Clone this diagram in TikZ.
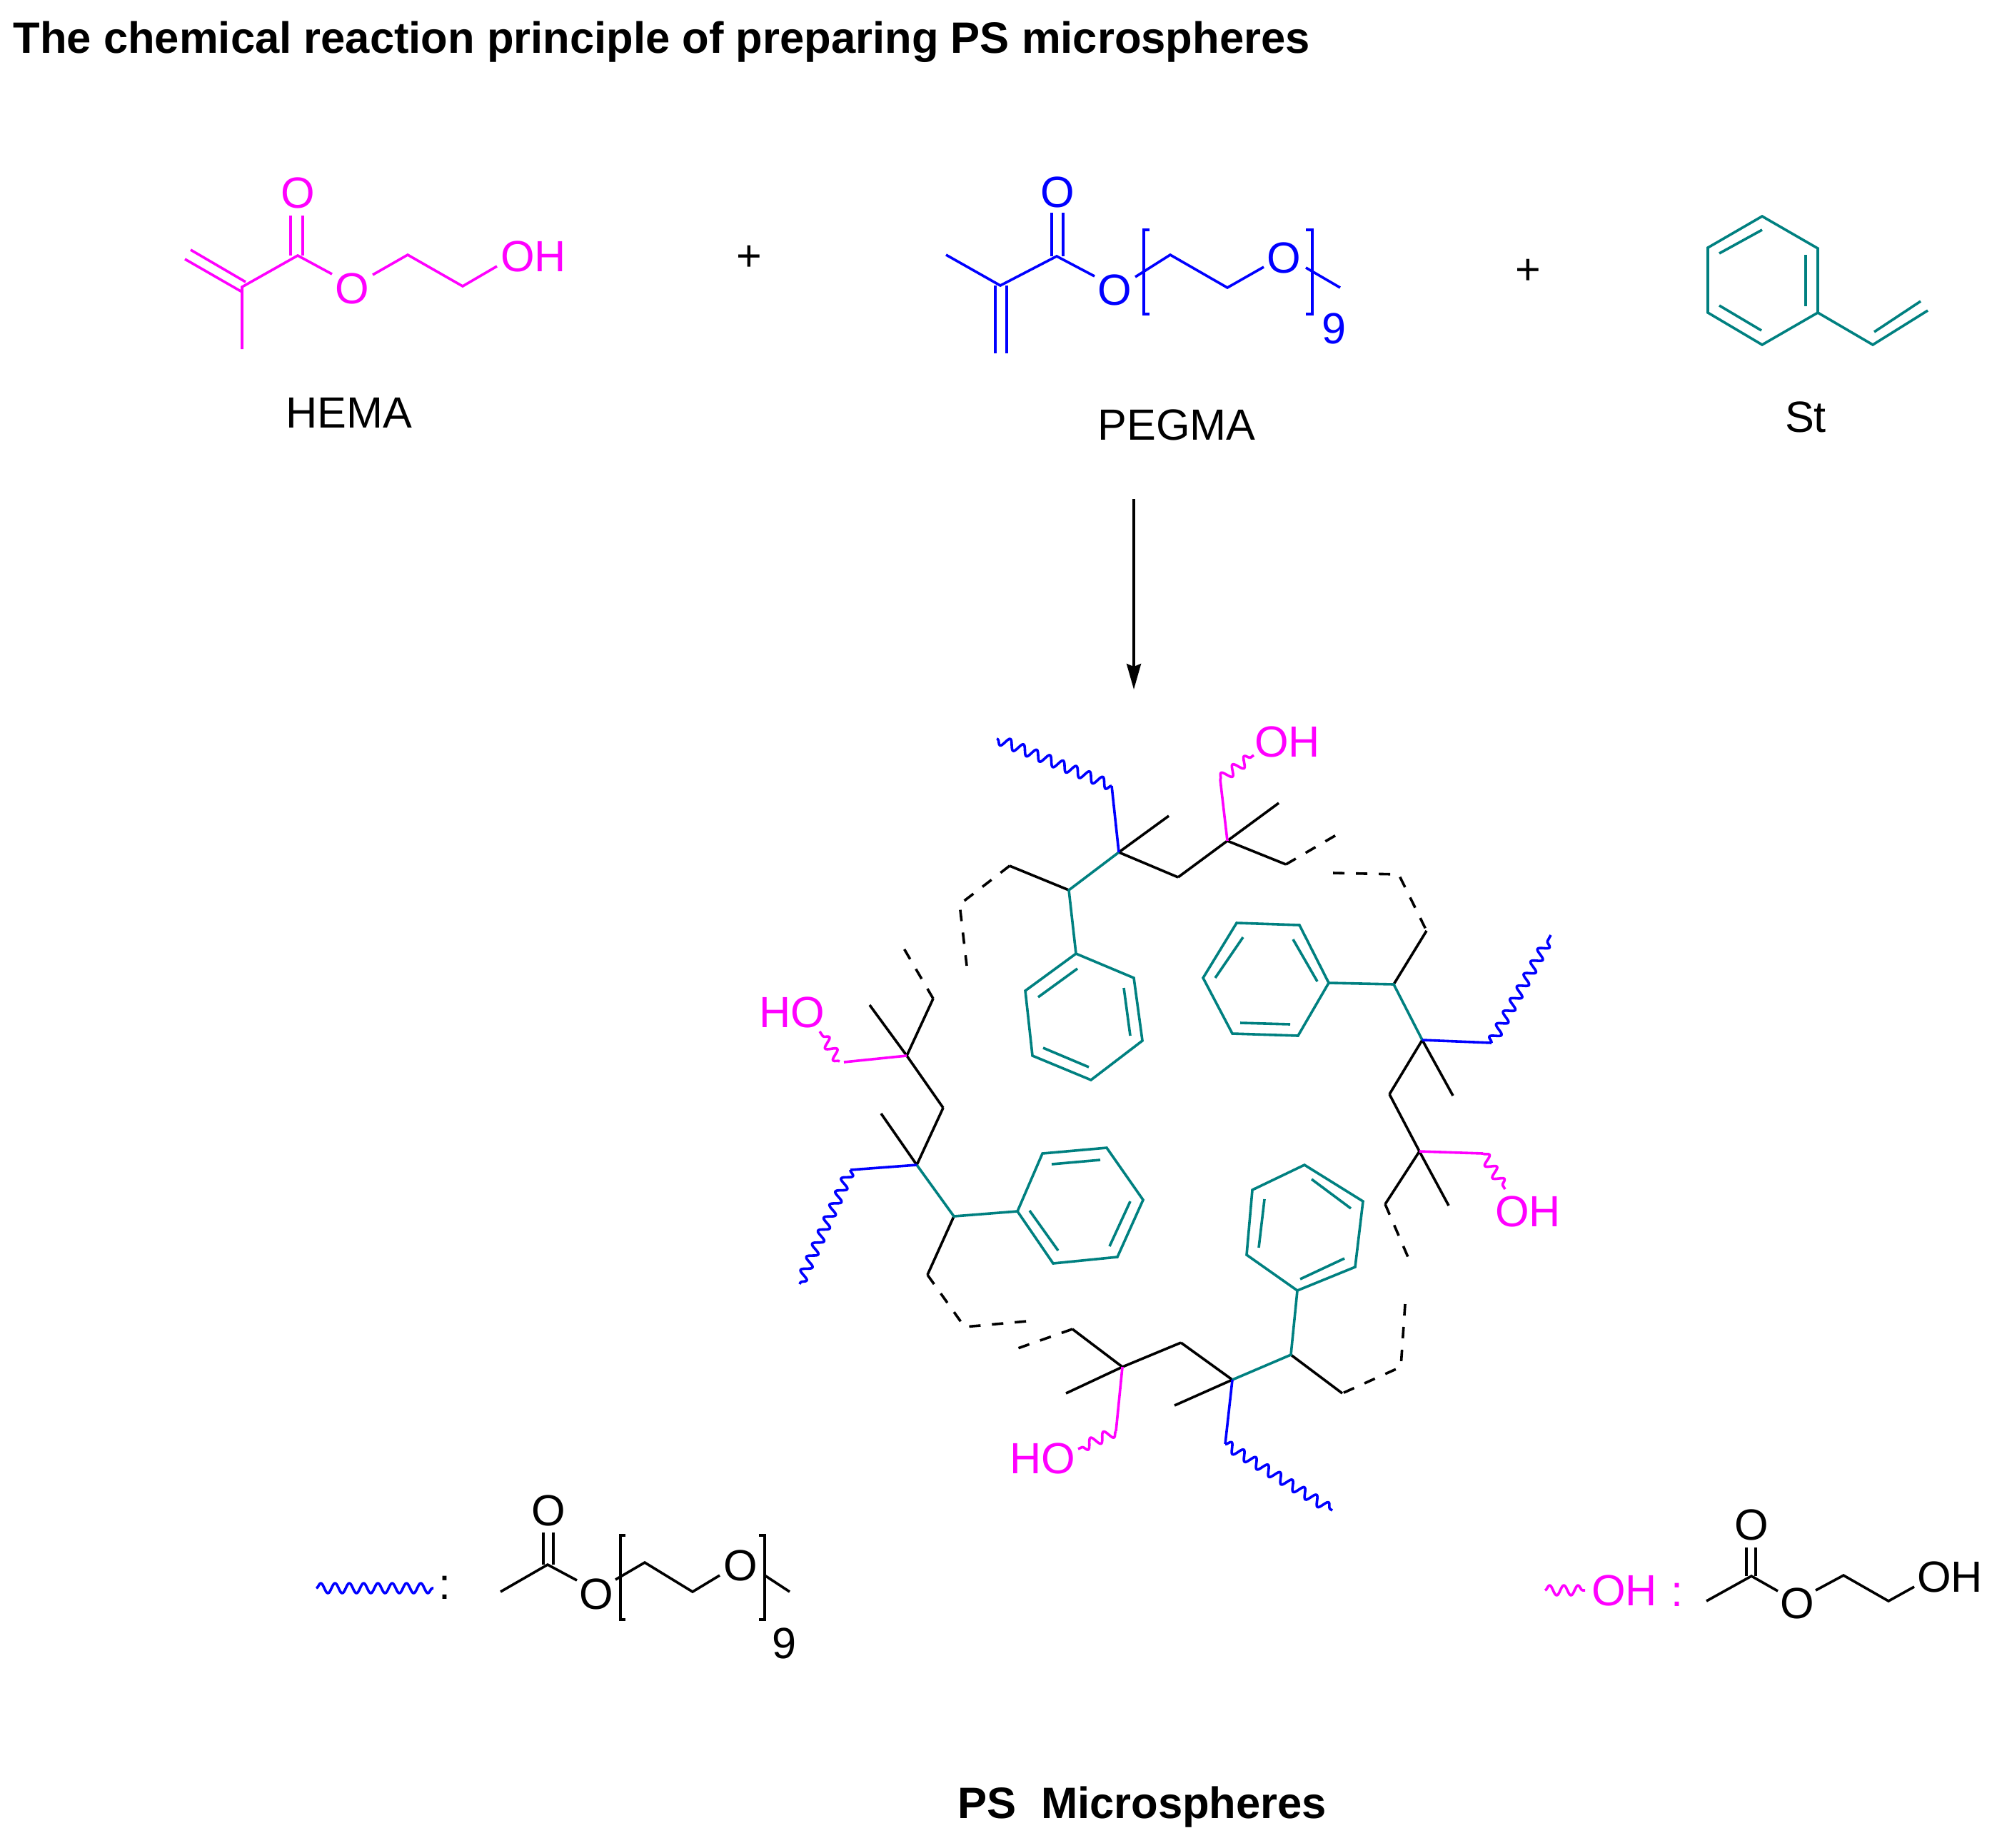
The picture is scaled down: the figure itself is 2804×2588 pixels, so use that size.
\documentclass[tikz,border=0pt]{standalone}
\usepackage{fontspec}
\setmainfont{Liberation Sans}
\usetikzlibrary{decorations.pathmorphing}
\usetikzlibrary{arrows.meta}
\definecolor{hemacol}{RGB}{255,0,255}
\definecolor{pegcol}{RGB}{0,0,255}
\definecolor{stcol}{RGB}{0,128,128}
\tikzset{
    bond/.style={line width=0.036cm},
    chain/.style={bond,dash pattern=on 0.16cm off 0.16cm},
    wavy/.style={bond,line join=round,decorate,decoration={snake,segment length=0.2cm,amplitude=0.07cm}},
    atom/.style={inner sep=0pt,font=\fontsize{17.4}{20}\selectfont},
    heading/.style={inner sep=0pt,anchor=base,font=\fontsize{17.5}{20}\selectfont\bfseries}
}
\begin{document}
\begin{tikzpicture}[x=0.01cm,y=-0.01cm]
    \useasboundingbox (0,0) rectangle (2804,2588);

    \node[heading,anchor=base west] (title) at (18,75) {The chemical reaction principle of preparing PS microspheres};
    \node[heading] (product) at (1600,2547) {PS\ \ Microspheres};

    % HEMA
    \begin{scope}[hemacol]
        \draw[bond] (339,409) -- (259,363);
        \draw[bond] (344,395) -- (267,350);
        \draw[bond] (339,489) -- (339,402) -- (417,358) -- (465,384);
        \draw[bond] (407,358) -- (407,302);
        \draw[bond] (424,358) -- (424,302);
        \draw[bond] (522,385) -- (571,357) -- (648,401) -- (696,373);
        \node[atom] (hemaoa) at (417,270) {O};
        \node[atom] (hemaob) at (493,404) {O};
        \node[atom] (hemaoh) at (747,359) {OH};
    \end{scope}
    \node[atom] (plusa) at (1049,362) {+};
    \node[atom] (hema) at (489,578) {HEMA};

    % PEGMA
    \begin{scope}[pegcol]
        \draw[bond] (1325,357) -- (1401,400) -- (1480,359) -- (1533,387);
        \draw[bond] (1394,400) -- (1394,495);
        \draw[bond] (1410,400) -- (1410,495);
        \draw[bond] (1473,359) -- (1473,298);
        \draw[bond] (1489,359) -- (1489,298);
        \draw[bond] (1590,388) -- (1639,357) -- (1719,403) -- (1770,374);
        \draw[bond] (1829,375) -- (1877,403);
        \draw[bond] (1610,322) -- (1602,322) -- (1602,440) -- (1610,440);
        \draw[bond] (1829,322) -- (1838,322) -- (1838,440) -- (1829,440);
        \node[atom] (pegoa) at (1481,269) {O};
        \node[atom] (pegob) at (1561,406) {O};
        \node[atom] (pegoc) at (1798,361) {O};
        \node[atom] (pegn) at (1868,460) {9};
    \end{scope}
    \node[atom] (plusb) at (2140,381) {+};
    \node[atom] (pegma) at (1648,595) {PEGMA};

    % St
    \begin{scope}[stcol]
        \draw[bond] (2468,303) -- (2546,348) -- (2546,438) -- (2468,483) -- (2392,438) -- (2392,347) -- cycle;
        \draw[bond] (2546,438) -- (2623,483) -- (2700,435);
        \foreach \a/\b in {{2408,355}/{2468,322},{2529,357}/{2529,429},{2408,428}/{2467,463},{2625,465}/{2690,422}} {
            \draw[bond] (\a) -- (\b);
        }
    \end{scope}
    \node[atom] (st) at (2529,584) {St};

    \coordinate (arrowtop) at (1588,699);
    \coordinate (arrowend) at (1588,966);
    \draw[bond,-{Stealth[length=0.36cm,width=0.2cm,inset=0.04cm]}] (arrowtop) -- (arrowend);

    % backbone
    \foreach \a/\b in {{1567,1194}/{1637,1143},{1567,1194}/{1650,1229},{1650,1229}/{1719,1178},{1719,1178}/{1791,1125},{1719,1178}/{1801,1211},
        {1497,1247}/{1414,1213},{1270,1479}/{1218,1408},{1270,1479}/{1307,1399},{1270,1479}/{1321,1552},{1321,1552}/{1284,1632},{1284,1632}/{1234,1560},
        {1336,1704}/{1299,1786},{1952,1379}/{1998,1304},{1992,1457}/{2035,1535},{1992,1457}/{1946,1533},{1946,1533}/{1988,1613},{1988,1613}/{2029,1689},
        {1988,1613}/{1940,1687},{1808,1898}/{1880,1952},{1726,1933}/{1645,1969},{1726,1933}/{1654,1881},{1654,1881}/{1572,1915},{1572,1915}/{1493,1952},{1572,1915}/{1502,1862}} {
        \draw[bond] (\a) -- (\b);
    }
    \draw[chain] (1414,1213) -- (1344,1267) -- (1354,1353);
    \draw[chain] (1307,1399) -- (1262,1322);
    \draw[chain] (1801,1211) -- (1878,1166);
    \draw[chain] (1867,1223) -- (1959,1225) -- (1998,1304);
    \draw[chain] (1940,1687) -- (1975,1768);
    \draw[chain] (1968,1827) -- (1962,1915) -- (1880,1952);
    \draw[chain] (1299,1786) -- (1351,1859) -- (1438,1851);
    \draw[chain] (1502,1862) -- (1417,1892);

    % styrene units
    \begin{scope}[stcol]
        \draw[bond] (1507,1336) -- (1497,1247) -- (1567,1194);
        \draw[bond] (1507,1336) -- (1588,1370) -- (1600,1458) -- (1528,1513) -- (1446,1479) -- (1436,1388) -- cycle;
        \draw[bond] (1861,1377) -- (1952,1379) -- (1992,1457);
        \draw[bond] (1861,1377) -- (1820,1296) -- (1732,1293) -- (1685,1370) -- (1726,1448) -- (1818,1451) -- cycle;
        \draw[bond] (1284,1632) -- (1336,1704) -- (1425,1697);
        \draw[bond] (1425,1697) -- (1460,1616) -- (1550,1608) -- (1601,1681) -- (1565,1761) -- (1475,1770) -- cycle;
        \draw[bond] (1726,1933) -- (1808,1898) -- (1817,1808);
        \draw[bond] (1817,1808) -- (1898,1775) -- (1909,1683) -- (1827,1632) -- (1754,1667) -- (1746,1758) -- cycle;
        \foreach \a/\b in {{1454,1397}/{1509,1357},{1574,1384}/{1583,1451},{1461,1468}/{1525,1495},
            {1811,1316}/{1845,1375},{1741,1313}/{1702,1370},{1737,1433}/{1807,1435},
            {1473,1631}/{1541,1625},{1583,1683}/{1554,1746},{1442,1696}/{1482,1752},
            {1771,1680}/{1763,1748},{1821,1792}/{1883,1763},{1837,1652}/{1892,1693}} {
            \draw[bond] (\a) -- (\b);
        }
    \end{scope}

    % PEGMA side groups
    \begin{scope}[pegcol]
        \draw[bond] (1567,1194) -- (1557,1101);
        \draw[wavy] (1557,1101) -- (1396,1035);
        \draw[bond] (1992,1457) -- (2089,1461);
        \draw[wavy] (2089,1461) -- (2172,1310);
        \draw[bond] (1284,1632) -- (1191,1639);
        \draw[wavy] (1191,1639) -- (1120,1799);
        \draw[bond] (1726,1933) -- (1716,2023);
        \draw[wavy] (1716,2023) -- (1866,2116);
    \end{scope}

    % HEMA side groups
    \begin{scope}[hemacol]
        \draw[bond] (1719,1178) -- (1709,1092);
        \draw[wavy] (1709,1092) -- (1756,1058);
        \node[atom] (ohtop) at (1803,1039) {OH};
        \draw[bond] (1270,1479) -- (1182,1488);
        \draw[wavy] (1176,1487) -- (1148,1445);
        \node[atom] (hoside) at (1109,1418) {HO};
        \draw[bond] (1988,1613) -- (2077,1616);
        \draw[wavy] (2077,1616) -- (2108,1666);
        \node[atom] (ohside) at (2140,1697) {OH};
        \draw[bond] (1572,1915) -- (1563,2005);
        \draw[wavy] (1563,2005) -- (1510,2030);
        \node[atom] (holow) at (1460,2043) {HO};
    \end{scope}

    % key, PEGMA group
    \draw[pegcol,wavy] (443,2225) -- (607,2225);
    \node[atom] (keycolona) at (623,2224) {:};
    \draw[bond] (701,2230) -- (767,2192) -- (808,2214);
    \draw[bond] (761,2192) -- (761,2147);
    \draw[bond] (775,2192) -- (775,2147);
    \node[atom] (keyoa) at (768,2116) {O};
    \node[atom] (keyob) at (835,2233) {O};
    \draw[bond] (862,2213) -- (903,2189) -- (970,2230) -- (1008,2207);
    \node[atom] (keyoc) at (1037,2193) {O};
    \draw[bond] (1071,2207) -- (1106,2230);
    \draw[bond] (876,2151) -- (869,2151) -- (869,2269) -- (876,2269);
    \draw[bond] (1063,2151) -- (1071,2151) -- (1071,2269) -- (1063,2269);
    \node[atom] (keyn) at (1098,2302) {9};

    % key, HEMA group
    \draw[hemacol,wavy] (2164,2228) -- (2220,2228);
    \node[atom,text=hemacol] (keyoh) at (2275,2228) {OH};
    \node[atom,text=hemacol] (keycolonb) at (2349,2234) {:};
    \draw[bond] (2390,2243) -- (2453,2208) -- (2490,2229);
    \draw[bond] (2446,2208) -- (2446,2168);
    \draw[bond] (2459,2208) -- (2459,2168);
    \node[atom] (keyod) at (2453,2136) {O};
    \node[atom] (keyoe) at (2517,2246) {O};
    \draw[bond] (2543,2228) -- (2582,2207) -- (2645,2243) -- (2681,2223);
    \node[atom] (keyohb) at (2731,2209) {OH};
\end{tikzpicture}
\end{document}
